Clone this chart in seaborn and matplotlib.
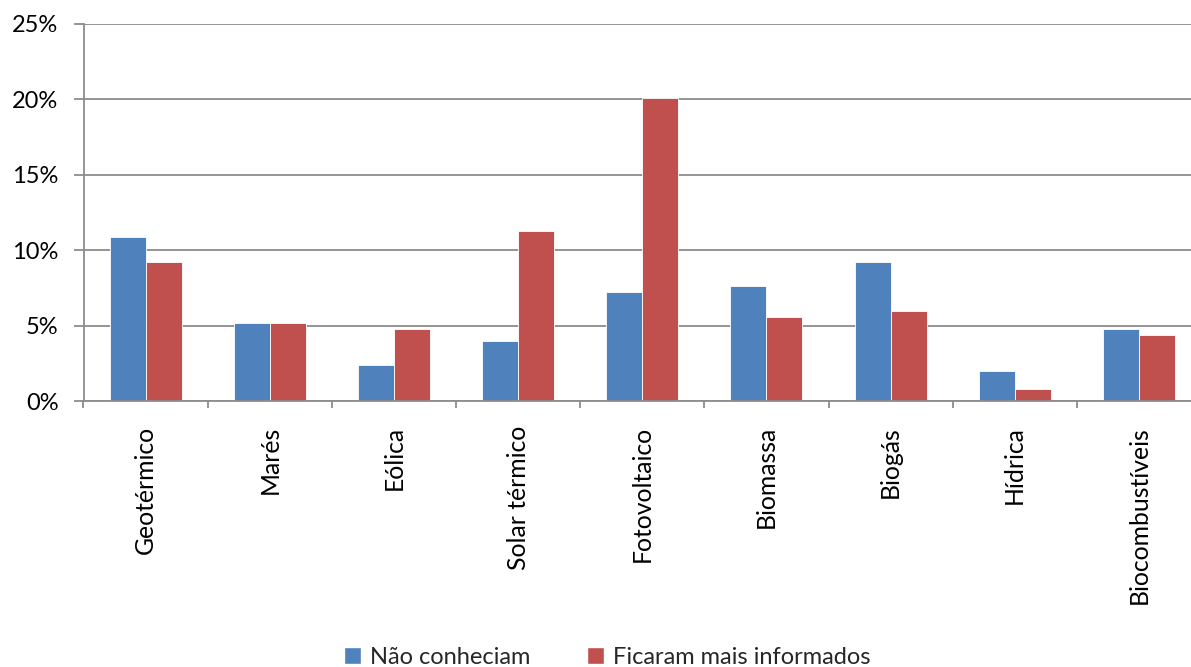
import matplotlib
matplotlib.use("Agg")
import matplotlib.pyplot as plt
from matplotlib.ticker import FuncFormatter, MultipleLocator, FixedLocator
import seaborn as sns
import pandas as pd

# Energy sources surveyed
categories = ["Geotérmico", "Marés", "Eólica", "Solar térmico", "Fotovoltaico",
              "Biomassa", "Biogás", "Hídrica", "Biocombustíveis"]
# Share of respondents (%) per series
nao_conheciam = [10.9, 5.2, 2.4, 4.0, 7.2, 7.6, 9.2, 2.0, 4.8]
ficaram_informados = [9.2, 5.2, 4.8, 11.3, 20.1, 5.6, 6.0, 0.8, 4.4]
series_names = ["Não conheciam", "Ficaram mais informados"]
colors = ["#4F81BD", "#C0504D"]

df = pd.DataFrame({
    "fonte": categories * 2,
    "serie": [series_names[0]] * len(categories) + [series_names[1]] * len(categories),
    "valor": nao_conheciam + ficaram_informados,
})

sns.set_theme(style="white")
plt.rcParams["font.family"] = ["Lato", "DejaVu Sans"]

fig = plt.figure(figsize=(11.91, 6.67), dpi=100)
ax = fig.add_axes([83.5 / 1191, 1 - 401 / 667, (1201 - 83.5) / 1191, (401 - 24) / 667])

sns.barplot(data=df, x="fonte", y="valor", hue="serie", order=categories,
            hue_order=series_names, palette=colors, width=0.58, gap=0,
            saturation=1, edgecolor="white", linewidth=0.6, ax=ax)

ax.set_xlim(-0.5, len(categories) - 0.5)
ax.set_ylim(0, 25)
ax.yaxis.set_major_locator(MultipleLocator(5))
ax.yaxis.set_major_formatter(FuncFormatter(lambda v, _: f"{v:.0f}%"))
ax.grid(axis="y", color="#8c8c8c", linewidth=1.3)
ax.set_axisbelow(True)

for side in ["top", "right"]:
    ax.spines[side].set_visible(False)
for side in ["left", "bottom"]:
    ax.spines[side].set_color("#8c8c8c")
    ax.spines[side].set_linewidth(1.3)

ax.set_xlabel("")
ax.set_ylabel("")
ax.tick_params(axis="y", which="major", direction="out", length=7, width=1.3,
               color="#8c8c8c", left=True, pad=11, labelsize=17, labelcolor="black")
ax.tick_params(axis="x", which="major", length=0, pad=18, labelsize=17.8, labelcolor="black")
ax.xaxis.set_minor_locator(FixedLocator([i - 0.5 for i in range(len(categories) + 1)]))
ax.tick_params(axis="x", which="minor", direction="out", length=5, width=1.3,
               color="#8c8c8c", bottom=True)
for lbl in ax.get_xticklabels():
    lbl.set_rotation(90)
    lbl.set_ha("center")
    lbl.set_va("top")

ax.legend_.remove()
handles = [plt.Rectangle((0, 0), 1, 1, facecolor=c) for c in colors]
fig.legend(handles, series_names, loc="center", bbox_to_anchor=(607 / 1191, 1 - 657 / 667),
           ncol=2, frameon=False, fontsize=17, handlelength=0.75, handleheight=0.75,
           handletextpad=0.35, columnspacing=2.4)

fig.savefig("out.png", dpi=100)
